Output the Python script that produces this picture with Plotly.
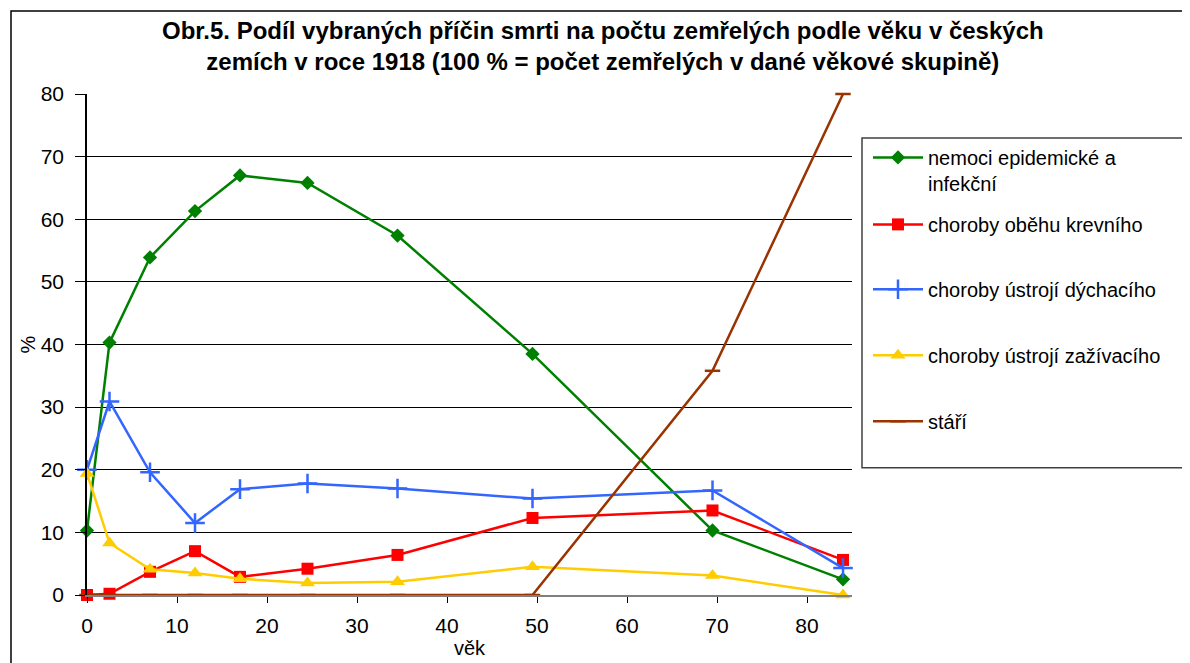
import plotly.graph_objects as go

age = [0, 2.5, 7, 12, 17, 24.5, 34.5, 49.5, 69.5, 84]
epidemic = [10.3, 40.3, 53.9, 61.3, 67.0, 65.8, 57.4, 38.5, 10.3, 2.5]
circulatory = [0.0, 0.2, 3.7, 7.0, 2.9, 4.2, 6.4, 12.3, 13.5, 5.6]
respiratory = [20.0, 30.9, 19.6, 11.5, 16.9, 17.8, 17.0, 15.4, 16.7, 4.3]
digestive = [19.4, 8.3, 4.1, 3.5, 2.6, 1.9, 2.1, 4.5, 3.1, 0.0]
old_age = [0, 0, 0, 0, 0, 0, 0, 0, 35.8, 80.0]

names = ["nemoci epidemické a<br>infekční", "choroby oběhu krevního",
         "choroby ústrojí dýchacího", "choroby ústrojí zažívacího", "stáří"]
series = [epidemic, circulatory, respiratory, digestive, old_age]
colors = ["#008000", "#FF0000", "#3366FF", "#FFCC00", "#993300"]
symbols = ["diamond", "square", "cross-thin", "triangle-up", "line-ew"]
sizes = [11, 12, 14, 13, 11]

x_ticks = [0, 10, 20, 30, 40, 50, 60, 70, 80]
y_ticks = [0, 10, 20, 30, 40, 50, 60, 70, 80]

FONT = "Liberation Sans, Arial, sans-serif"

OFF = 8  # page body margin
W, H = 1190 - OFF, 663 - OFF
L, R, T, B = 87 - OFF, 852 - OFF, 94 - OFF, 595.5 - OFF
pw, ph = R - L, B - T

def px(xp):
    return (xp - OFF - L) / pw

def py(yp):
    return (B - (yp - OFF)) / ph

legend_ids = ["legend", "legend2", "legend3", "legend4", "legend5"]
legend_rows = [158, 225, 290, 356, 422]

fig = go.Figure()
for i, (nm, ys, c, s, sz) in enumerate(zip(names, series, colors, symbols, sizes)):
    mline = dict(width=2.5, color=c) if s in ("cross-thin", "line-ew") else dict(width=0)
    fig.add_trace(go.Scatter(
        x=age, y=ys, name=nm, mode="lines+markers",
        line=dict(color=c, width=2.5),
        marker=dict(symbol=s, size=sz, color=c, line=mline),
        cliponaxis=False, legend=legend_ids[i],
    ))

layout_legends = {}
for lid, row in zip(legend_ids, legend_rows):
    layout_legends[lid] = dict(
        x=px(868), y=py(row - 20), xanchor="left", yanchor="top",
        bgcolor="rgba(0,0,0,0)", borderwidth=0, valign="top",
        font=dict(size=20), itemwidth=50)

fig.update_layout(
    width=W, height=H,
    margin=dict(l=L, r=W - R, t=T, b=H - B, autoexpand=False),
    paper_bgcolor="white", plot_bgcolor="white",
    font=dict(family=FONT, size=20, color="black"),
    showlegend=True,
    **layout_legends,
    xaxis=dict(range=[0, 85], tickvals=x_ticks, ticks="outside", ticklen=6,
               tickcolor="black", showline=True, linecolor="#808080", linewidth=1.5,
               showgrid=False, zeroline=False, tickfont=dict(size=21),
               ticklabelstandoff=5,
               title=dict(text="věk", font=dict(size=20), standoff=5)),
    yaxis=dict(range=[0, 80], tickvals=y_ticks, ticks="outside", ticklen=10,
               tickcolor="black", showline=True, linecolor="black", linewidth=1.5,
               showgrid=True, gridcolor="black", gridwidth=1, zeroline=False,
               tickfont=dict(size=21), ticklabelstandoff=7,
               title=dict(text="%", font=dict(size=20), standoff=0)),
    annotations=[dict(
        text="<b>Obr.5. Podíl vybraných příčin smrti na počtu zemřelých podle věku v českých<br>"
             "zemích v roce 1918 (100 % = počet zemřelých v dané věkové skupině)</b>",
        xref="paper", yref="paper", x=px(603), y=py(15), xanchor="center", yanchor="top",
        showarrow=False, font=dict(size=24), align="center")],
    shapes=[
        dict(type="rect", xref="paper", yref="paper", x0=px(11), x1=px(1183),
             y0=py(680), y1=py(11), line=dict(color="black", width=1.5), layer="below"),
        dict(type="rect", xref="paper", yref="paper", x0=px(862), x1=px(1184),
             y0=py(468), y1=py(138), line=dict(color="#404040", width=1.5), layer="below"),
    ],
)

fig.write_html("out.html")
